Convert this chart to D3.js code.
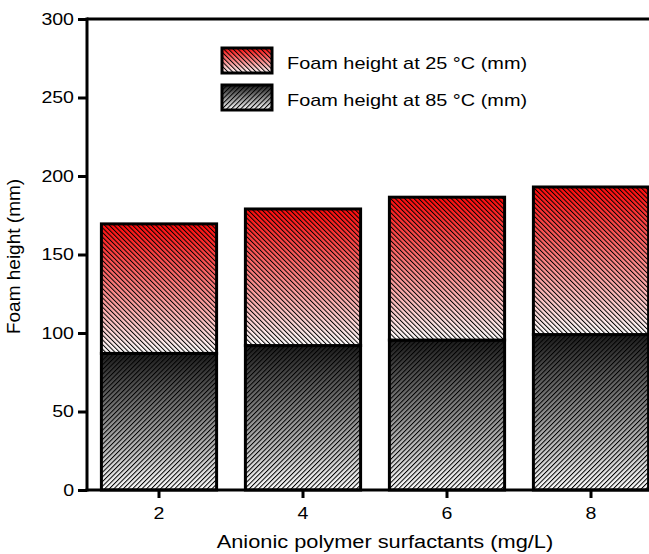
<!DOCTYPE html>
<html>
<head>
<meta charset="utf-8">
<script src="https://cdn.jsdelivr.net/npm/d3@7/dist/d3.min.js"></script>
<style>
  body { margin: 0; background: #fff; }
  svg { display: block; font-family: "Liberation Sans", Arial, Helvetica, sans-serif; }
</style>
</head>
<body>
<div id="chart"></div>
<script>
// concentrations on the x axis
const categories = ['2', '4', '6', '8']
// stacked segments: 85 °C at the bottom, the rest up to the 25 °C total
const foam85 = [87, 92, 95.5, 99]
const foam25 = [169.5, 179, 186.5, 193]
const yTicks = [0, 50, 100, 150, 200, 250, 300]
const legendLabels = ['Foam height at 25 °C (mm)', 'Foam height at 85 °C (mm)']

const W = 649, H = 554
const margin = {top: 19, left: 87, bottom: 64}
const plotRight = 663

const x = d3.scaleBand().domain(categories).range([margin.left, plotRight]).paddingInner(0.2).paddingOuter(0.1)
const y = d3.scaleLinear().domain([0, 300]).range([H - margin.bottom, margin.top])

const svg = d3.select('#chart').append('svg').attr('width', W).attr('height', H)
const defs = svg.append('defs')

// widen glyphs a bit, the original text is rendered wider than Liberation Sans
const stretch = (sel, k) => sel.each(function() {
  const len = this.getComputedTextLength()
  d3.select(this).attr('textLength', len * k).attr('lengthAdjust', 'spacingAndGlyphs')
})

const grad = (id, top) => {
  const g = defs.append('linearGradient').attr('id', id).attr('x1', 0).attr('y1', 0).attr('x2', 0).attr('y2', 1)
  g.append('stop').attr('offset', '0%').attr('stop-color', top)
  g.append('stop').attr('offset', '100%').attr('stop-color', '#ffffff')
}
grad('gRed', '#ff0a0a')
grad('gDark', '#1c1c1c')

const hatch = (id, angle) => {
  const p = defs.append('pattern').attr('id', id).attr('patternUnits', 'userSpaceOnUse')
    .attr('width', 3.3).attr('height', 3.3).attr('patternTransform', `rotate(${angle})`)
  p.append('line').attr('x1', 0.5).attr('y1', 0).attr('x2', 0.5).attr('y2', 3.3)
    .attr('stroke', '#000').attr('stroke-width', 1)
}
hatch('hRed', -45)
hatch('hDark', 45)

const segments = categories.map((c, i) => [
  {c, y0: 0, y1: foam85[i], fill: 'gDark', hatch: 'hDark'},
  {c, y0: foam85[i], y1: foam25[i], fill: 'gRed', hatch: 'hRed'}
]).flat()

const bars = svg.append('g')
const seg = bars.selectAll('g.seg').data(segments).enter().append('g').attr('class', 'seg')
const rectAttrs = s => s
  .attr('x', d => x(d.c))
  .attr('y', d => y(d.y1))
  .attr('width', x.bandwidth())
  .attr('height', d => y(d.y0) - y(d.y1))
seg.append('rect').call(rectAttrs).attr('fill', d => `url(#${d.fill})`)
seg.append('rect').call(rectAttrs).attr('fill', d => `url(#${d.hatch})`)
seg.append('rect').call(rectAttrs).attr('fill', 'none').attr('stroke', '#000').attr('stroke-width', 3)

// frame top line
svg.append('line').attr('x1', margin.left).attr('x2', plotRight).attr('y1', y(300)).attr('y2', y(300))
  .attr('stroke', '#000').attr('stroke-width', 3)

const yAxis = svg.append('g').attr('transform', `translate(${margin.left},0)`)
  .call(d3.axisLeft(y).tickValues(yTicks).tickSize(9).tickPadding(4))
const xAxis = svg.append('g').attr('transform', `translate(0,${y(0)})`)
  .call(d3.axisBottom(x).tickSize(8).tickPadding(9))
;[yAxis, xAxis].forEach(a => {
  a.attr('font-family', null).attr('font-size', 17)
  a.select('.domain').attr('stroke-width', 3)
  a.selectAll('.tick line').attr('stroke-width', 3)
  a.selectAll('.tick text').attr('fill', '#000').call(stretch, 1.15)
})
yAxis.select('.domain').attr('d', `M0,${y(300) - 1.5}V${y(0) + 1.5}`)
xAxis.select('.domain').attr('d', `M${margin.left - 1.5},0H${plotRight}`)

svg.append('text').attr('transform', `translate(20,${(y(0) + y(300)) / 2 + 2}) rotate(-90)`)
  .attr('text-anchor', 'middle').attr('font-size', 19).text('Foam height (mm)')
svg.append('text').attr('x', 385).attr('y', 548)
  .attr('text-anchor', 'middle').attr('font-size', 18).text('Anionic polymer surfactants (mg/L)')
  .call(stretch, 1.21)

// legend
const legend = svg.append('g').attr('transform', 'translate(222,48)')
const items = [{fill: 'gRed', hatch: 'hRed'}, {fill: 'gDark', hatch: 'hDark'}]
items.forEach((it, i) => {
  const g = legend.append('g').attr('transform', `translate(0,${i * 37})`)
  g.append('rect').attr('width', 50).attr('height', 25).attr('fill', `url(#${it.fill})`)
  g.append('rect').attr('width', 50).attr('height', 25).attr('fill', `url(#${it.hatch})`)
  g.append('rect').attr('width', 50).attr('height', 25).attr('fill', 'none').attr('stroke', '#000').attr('stroke-width', 3)
  g.append('text').attr('x', 65).attr('y', 21).attr('font-size', 17).text(legendLabels[i])
    .call(stretch, 1.17)
})
</script>
</body>
</html>
